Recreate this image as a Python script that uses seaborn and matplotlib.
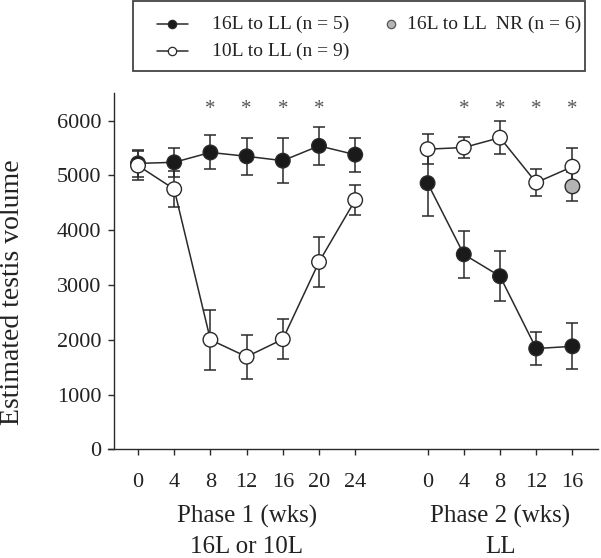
import numpy as np
import pandas as pd
import matplotlib
matplotlib.use("Agg")
import matplotlib.pyplot as plt
import seaborn as sns
from matplotlib.lines import Line2D
from matplotlib.patches import Rectangle

# ---------------- data ----------------
phase1_weeks = [0, 4, 8, 12, 16, 20, 24]
phase2_weeks = [0, 4, 8, 12, 16]

g16_p1 = [5220, 5240, 5420, 5350, 5270, 5540, 5380]
g16_p1_err = [250, 270, 310, 340, 410, 340, 310]
g10_p1 = [5180, 4750, 2000, 1690, 2010, 3420, 4550]
g10_p1_err = [260, 330, 550, 400, 360, 460, 280]

g16_p2 = [4860, 3560, 3160, 1840, 1880]
g16_p2_err = [600, 430, 460, 300, 420]
g10_p2 = [5480, 5510, 5690, 4870, 5160]
g10_p2_err = [270, 190, 300, 250, 340]

nr_weeks = [16]
nr_p2 = [4800]
nr_p2_err = [270]

sig_p1_weeks = [8, 12, 16, 20]
sig_p2_weeks = [4, 8, 12, 16]

labels = {"g16": "16L to LL (n = 5)", "g10": "10L to LL (n = 9)",
          "nr": "16L to LL  NR (n = 6)"}
phase_titles = [("Phase 1 (wks)", "16L or 10L"), ("Phase 2 (wks)", "LL")]

# ---------------- build table ----------------
def pos(phase, week):
    return week / 4 if phase == 1 else 8 + week / 4

rows = []
for grp, ph, weeks, vals, errs in [
    ("g16", 1, phase1_weeks, g16_p1, g16_p1_err),
    ("g10", 1, phase1_weeks, g10_p1, g10_p1_err),
    ("g16", 2, phase2_weeks, g16_p2, g16_p2_err),
    ("g10", 2, phase2_weeks, g10_p2, g10_p2_err),
    ("nr", 2, nr_weeks, nr_p2, nr_p2_err),
]:
    for w, v, e in zip(weeks, vals, errs):
        rows.append(dict(group=grp, phase=ph, week=w, x=pos(ph, w),
                         mean=v, sem=e, seg=f"{grp}-{ph}"))
df = pd.DataFrame(rows)

# ---------------- style ----------------
sns.set_theme(style="ticks")
plt.rcParams["font.family"] = ["Liberation Serif", "DejaVu Serif"]
plt.rcParams["axes.linewidth"] = 1.0

W, H = 601, 558
fig = plt.figure(figsize=(W / 100, H / 100), dpi=100)
ax_l, ax_r, ax_b, ax_t = 108, 598, 449.3, 93.3
ax = fig.add_axes([ax_l / W, 1 - ax_b / H, (ax_r - ax_l) / W, (ax_b - ax_t) / H])

dark = "#2a2a2a"
face = {"g16": "#1a1a1a", "g10": "white", "nr": "#b4b4b4"}

# error bars
for (grp, ph), sub in df.groupby(["group", "phase"]):
    ax.errorbar(sub["x"], sub["mean"], yerr=sub["sem"], fmt="none",
                ecolor=dark, elinewidth=1.1, capsize=4.5, capthick=1.1, zorder=1)

# connecting lines
line_df = df[df["group"] != "nr"]
sns.lineplot(data=line_df, x="x", y="mean", units="seg", estimator=None,
             color=dark, linewidth=1.1, ax=ax, zorder=2, legend=False)

# markers
sns.scatterplot(data=df, x="x", y="mean", hue="group", palette=face,
                s=110, edgecolor=dark, linewidth=1.0, ax=ax, zorder=3,
                legend=False)

# significance asterisks
for w in sig_p1_weeks:
    ax.text(pos(1, w), 6210, "*", ha="center", va="center", fontsize=15,
            color="#555555")
for w in sig_p2_weeks:
    ax.text(pos(2, w), 6210, "*", ha="center", va="center", fontsize=15,
            color="#555555")

# axes
ax.set_xlim((ax_l - 138) / 36.2, (ax_r - 138) / 36.2)
ax.set_ylim(0, 6500)
ax.set_yticks([0, 1000, 2000, 3000, 4000, 5000, 6000])
xt = [pos(1, w) for w in phase1_weeks] + [pos(2, w) for w in phase2_weeks]
xl = [str(w) for w in phase1_weeks] + [str(w) for w in phase2_weeks]
ax.set_xticks(xt)
ax.set_xticklabels(xl)
ax.tick_params(axis="x", length=4, width=1.0, pad=13, labelsize=16, colors=dark,
               labelcolor="#222222")
ax.tick_params(axis="y", length=4, width=1.0, pad=5, labelsize=16, colors=dark,
               labelcolor="#222222")
for s in ["top", "right"]:
    ax.spines[s].set_visible(False)
ax.spines["left"].set_position(("axes", 6 / (ax_r - ax_l)))
ax.spines["left"].set_color(dark)
ax.spines["bottom"].set_color(dark)
ax.set_xlabel("")
ax.set_ylabel("")

fig.text(13 / W, 1 - 292 / H, "Estimated testis volume", rotation=90,
         ha="center", va="center", fontsize=20, color="#222222")

# phase labels
tr = matplotlib.transforms.blended_transform_factory(ax.transData, fig.transFigure)
for xc, (l1, l2) in zip([3, 10], phase_titles):
    ax.text(xc, 1 - 523 / H, l1, transform=tr, ha="center", va="baseline",
            fontsize=18, color="#222222")
    ax.text(xc, 1 - 553 / H, l2, transform=tr, ha="center", va="baseline",
            fontsize=18, color="#222222")

# legend (manual box)
fig.add_artist(Rectangle((133 / W, 1 - 71 / H), (585 - 133) / W, 70 / H,
                         transform=fig.transFigure, fill=False,
                         edgecolor="#444444", linewidth=1.3))
for yy, grp in [(24, "g16"), (51, "g10")]:
    fig.add_artist(Line2D([157 / W, 188 / W], [1 - yy / H, 1 - yy / H],
                          transform=fig.transFigure, color=dark, linewidth=1.1))
    fig.add_artist(Line2D([172 / W], [1 - yy / H], transform=fig.transFigure,
                          marker="o", markersize=6, markerfacecolor=face[grp],
                          markeredgecolor=dark, markeredgewidth=0.9))
    fig.text(212 / W, 1 - yy / H, labels[grp], ha="left", va="center",
             fontsize=14, color="#222222")
fig.add_artist(Line2D([391 / W], [1 - 24 / H], transform=fig.transFigure,
                      marker="o", markersize=6, markerfacecolor=face["nr"],
                      markeredgecolor="#555555", markeredgewidth=0.9))
fig.text(407 / W, 1 - 24 / H, labels["nr"], ha="left", va="center",
         fontsize=14, color="#222222")

fig.savefig("out.png", dpi=100)
